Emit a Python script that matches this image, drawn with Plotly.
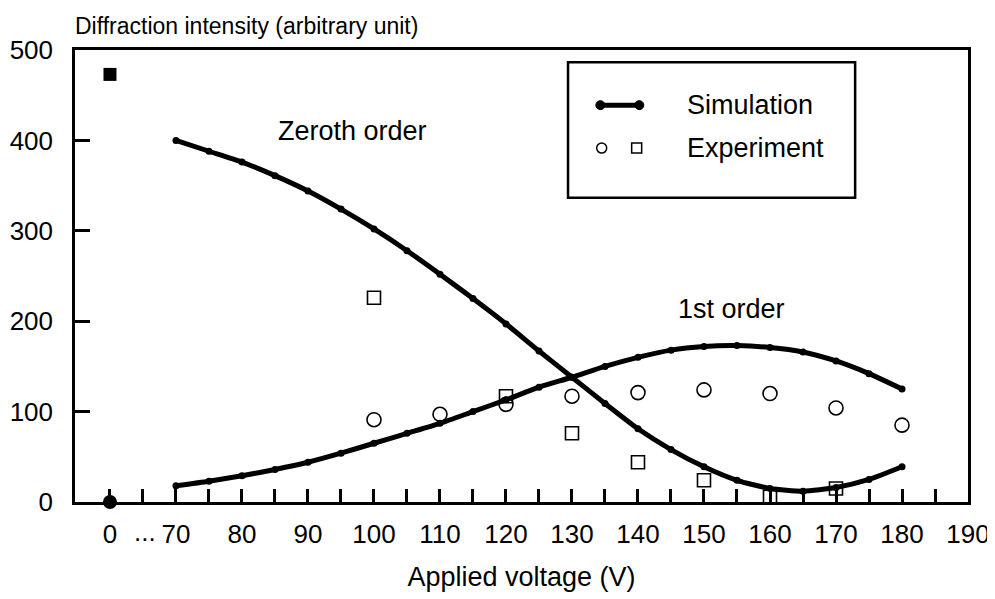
import plotly.graph_objects as go

# ---------------- data ----------------
sim_voltage = [70, 75, 80, 85, 90, 95, 100, 105, 110, 115, 120, 125, 130,
               135, 140, 145, 150, 155, 160, 165, 170, 175, 180]
sim_zeroth = [400, 388, 376, 361, 344, 324, 302, 278, 252, 225, 197, 167, 138,
              109, 81, 58, 39, 24, 15, 12, 16, 25, 39]
sim_first = [18, 23, 29, 36, 44, 54, 65, 76, 87, 100, 113, 127, 138,
             150, 160, 168, 172, 173, 171, 166, 156, 142, 125]

exp_voltage_first = [100, 110, 120, 130, 140, 150, 160, 170, 180]
exp_first = [91, 97, 108, 117, 121, 124, 120, 104, 85]

exp_voltage_zeroth = [100, 120, 130, 140, 150, 160, 170]
exp_zeroth = [226, 117, 76, 44, 24, 6, 15]

zero_v_zeroth = 473   # intensity at 0 V, zeroth order
zero_v_first = 0      # intensity at 0 V, first order

x_tick_values = [0, 70, 80, 90, 100, 110, 120, 130, 140, 150, 160, 170, 180, 190]
x_tick_labels = ["0", "70", "80", "90", "100", "110", "120", "130", "140",
                 "150", "160", "170", "180", "190"]
y_tick_values = [0, 100, 200, 300, 400, 500]

# broken axis: 0 V is drawn at axis position 60, the gap is marked with "..."
BREAK_POS = 60


def axpos(v):
    return BREAK_POS if v == 0 else v


FONT = "Liberation Sans, Arial, Helvetica, sans-serif"
BLACK = "#000000"

fig = go.Figure()

# simulation curves
for ys in (sim_zeroth, sim_first):
    fig.add_trace(go.Scatter(
        x=[axpos(v) for v in sim_voltage], y=ys, mode="lines+markers",
        line=dict(color=BLACK, width=5, shape="spline", smoothing=0.6),
        marker=dict(color=BLACK, size=7), showlegend=False, hoverinfo="x+y"))

# experiment, first order (circles)
fig.add_trace(go.Scatter(
    x=[axpos(v) for v in exp_voltage_first], y=exp_first, mode="markers",
    marker=dict(symbol="circle-open", size=14, color=BLACK, line=dict(width=1.6)),
    showlegend=False))

# experiment, zeroth order (squares)
fig.add_trace(go.Scatter(
    x=[axpos(v) for v in exp_voltage_zeroth], y=exp_zeroth, mode="markers",
    marker=dict(symbol="square-open", size=13, color=BLACK, line=dict(width=1.6)),
    showlegend=False))

# 0 V points (experiment and simulation coincide -> filled)
fig.add_trace(go.Scatter(
    x=[axpos(0)], y=[zero_v_zeroth], mode="markers",
    marker=dict(symbol="square", size=13, color=BLACK),
    showlegend=False, cliponaxis=False))
fig.add_trace(go.Scatter(
    x=[axpos(0)], y=[zero_v_first], mode="markers",
    marker=dict(symbol="circle", size=14, color=BLACK),
    showlegend=False, cliponaxis=False))

# ---------------- custom legend ----------------
shapes = [
    dict(type="rect", xref="x", yref="y", x0=129.4, x1=172.9, y0=336.5, y1=486.5,
         line=dict(color=BLACK, width=2.5), fillcolor="rgba(0,0,0,0)"),
    dict(type="line", xref="x", yref="y", x0=134.3, x1=140.2, y0=439, y1=439,
         line=dict(color=BLACK, width=5)),
]
for xc in (134.3, 140.2):
    shapes.append(dict(type="circle", xref="x", yref="y", xsizemode="pixel",
                       ysizemode="pixel", xanchor=xc, yanchor=439,
                       x0=-4.5, x1=4.5, y0=-4.5, y1=4.5,
                       fillcolor=BLACK, line=dict(color=BLACK, width=1)))
shapes.append(dict(type="circle", xref="x", yref="y", xsizemode="pixel",
                   ysizemode="pixel", xanchor=134.5, yanchor=391.5,
                   x0=-5, x1=5, y0=-5, y1=5,
                   line=dict(color=BLACK, width=1.5)))
shapes.append(dict(type="rect", xref="x", yref="y", xsizemode="pixel",
                   ysizemode="pixel", xanchor=139.8, yanchor=391.5,
                   x0=-5, x1=5, y0=-5, y1=5,
                   line=dict(color=BLACK, width=1.5)))

annotations = [
    dict(text="Simulation", x=147.1, y=439, xref="x", yref="y", showarrow=False,
         xanchor="left", yanchor="middle", font=dict(size=27, family=FONT, color=BLACK)),
    dict(text="Experiment", x=147.1, y=391.5, xref="x", yref="y", showarrow=False,
         xanchor="left", yanchor="middle", font=dict(size=27, family=FONT, color=BLACK)),
    dict(text="Zeroth order", x=96.8, y=410, xref="x", yref="y", showarrow=False,
         xanchor="center", yanchor="middle", font=dict(size=27, family=FONT, color=BLACK)),
    dict(text="1st order", x=154.1, y=213, xref="x", yref="y", showarrow=False,
         xanchor="center", yanchor="middle", font=dict(size=27, family=FONT, color=BLACK)),
    dict(text="...", x=65.3, y=0, xref="x", yref="paper", yshift=-30,
         showarrow=False, xanchor="center", yanchor="middle",
         font=dict(size=26, family=FONT, color=BLACK)),
    dict(text="Diffraction intensity (arbitrary unit)", x=0, y=1, xref="paper",
         yref="paper", xshift=-2, yshift=9, showarrow=False, xanchor="left",
         yanchor="bottom", font=dict(size=23, family=FONT, color=BLACK)),
]

# tick marks every 5 V (including the break position)
x_tick_marks = [BREAK_POS + 5 * i for i in range(26)]

# the page adds an 8 px body margin, so the figure is sized to fit the window
fig.update_layout(
    width=987, height=591,
    margin=dict(l=67, r=27, t=42, b=97),
    paper_bgcolor="white", plot_bgcolor="white",
    font=dict(family=FONT, size=26, color=BLACK),
    shapes=shapes, annotations=annotations,
    xaxis=dict(
        range=[54.7, 190], showgrid=False, zeroline=False, automargin=False,
        showline=True, linecolor=BLACK, linewidth=2.5, mirror=True,
        tickmode="array",
        tickvals=[axpos(v) for v in x_tick_values], ticktext=x_tick_labels,
        ticks="", tickfont=dict(size=26, family=FONT),
        ticklabelstandoff=7,
        minor=dict(tickmode="array", tickvals=x_tick_marks, ticks="inside",
                   ticklen=13, tickwidth=2.5, tickcolor=BLACK, showgrid=False),
        title=dict(text="Applied voltage (V)", font=dict(size=27, family=FONT),
                   standoff=20),
    ),
    yaxis=dict(
        range=[0, 500], showgrid=False, zeroline=False, automargin=False,
        showline=True, linecolor=BLACK, linewidth=2.5, mirror=True,
        tickmode="array", tickvals=y_tick_values,
        ticks="inside", ticklen=15, tickwidth=2.5, tickcolor=BLACK,
        tickfont=dict(size=26, family=FONT), ticklabelstandoff=14,
    ),
)

fig.write_html("out.html")
